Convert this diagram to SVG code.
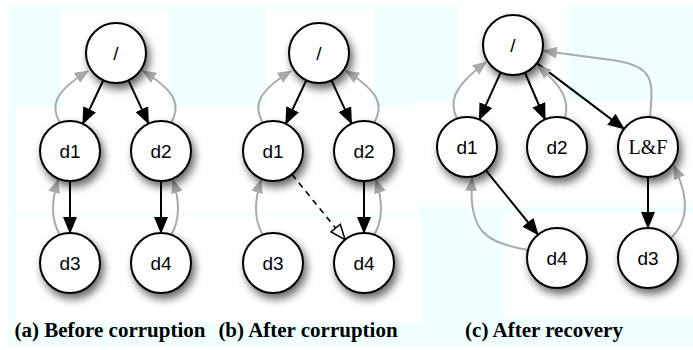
<svg xmlns="http://www.w3.org/2000/svg" width="693" height="350" viewBox="0 0 693 350">
  <defs>
    <filter id="shadow" x="-40%" y="-40%" width="190%" height="190%">
      <feDropShadow dx="3" dy="5" stdDeviation="4" flood-color="#000" flood-opacity="0.6"/>
    </filter>
    <marker id="head" markerUnits="userSpaceOnUse" markerWidth="17" markerHeight="14" refX="16" refY="7" orient="auto">
      <path d="M0,0 L17,7 L0,14 z" fill="#000"/>
    </marker>
    <marker id="headOpen" markerUnits="userSpaceOnUse" markerWidth="18" markerHeight="15" refX="16" refY="7.5" orient="auto">
      <path d="M1,1.5 L16,7.5 L1,13.5 z" fill="#fff" stroke="#000" stroke-width="1.5"/>
    </marker>
    <marker id="back" markerUnits="userSpaceOnUse" markerWidth="14" markerHeight="12" refX="13" refY="6" orient="auto">
      <path d="M0,0 L14,6 L0,12 z" fill="#aaa"/>
    </marker>
  </defs>
  <style>
    .node circle { fill: #fff; stroke: #000; stroke-width: 2; }
    .node text { font-family: "Liberation Sans", Arial, sans-serif; font-size: 19px; text-anchor: middle; fill: #000; }
    .node text.serif { font-family: "Liberation Serif", "Times New Roman", serif; font-size: 20px; }
    .edge { fill: none; stroke: #000; stroke-width: 2; marker-end: url(#head); }
    .dashed { fill: none; stroke: #000; stroke-width: 1.6; stroke-dasharray: 6 5; marker-end: url(#headOpen); }
    .parent { fill: none; stroke: #aaa; stroke-width: 2; marker-end: url(#back); }
    .caption { font-family: "Liberation Serif", "Times New Roman", serif; font-weight: bold; font-size: 21px; text-anchor: middle; fill: #000; }
  </style>

  <!-- page background: light cyan with white panels -->
  <g id="background">
    <rect x="0" y="0" width="693" height="350" fill="#fff"/>
    <rect x="8" y="5" width="685" height="342" fill="#f0ffff"/>
    <rect x="62" y="9" width="106" height="98" fill="#fff"/>
    <rect x="266" y="9" width="107" height="98" fill="#fff"/>
    <rect x="460" y="5" width="107" height="98" fill="#fff"/>
    <rect x="16" y="107" width="404" height="216" fill="#fff"/>
    <rect x="413" y="102" width="280" height="105" fill="#fff"/>
    <rect x="505" y="213" width="188" height="105" fill="#fff"/>
    <rect x="16" y="214" width="404" height="2" fill="#f0ffff"/>
  </g>

  <!-- connectors -->
  <g id="connectors">
    <!-- (a) -->
    <line class="edge" x1="103.3" y1="80.2" x2="82.8" y2="123.8"/>
    <line class="edge" x1="128.5" y1="80.3" x2="148.5" y2="123.7"/>
    <line class="edge" x1="70" y1="181" x2="70" y2="233"/>
    <line class="edge" x1="161" y1="181" x2="161" y2="233"/>
    <path class="parent" d="M60,123 C50,106 54,92 88,71"/>
    <path class="parent" d="M171,123 C181,106 177,92 143,71"/>
    <path class="parent" d="M60,235 C52,222 50,205 58,180"/>
    <path class="parent" d="M171,235 C179,222 181,205 173,180"/>
    <!-- (b) -->
    <line class="edge" x1="306.3" y1="80.2" x2="285.8" y2="123.8"/>
    <line class="edge" x1="331.5" y1="80.3" x2="351.5" y2="123.7"/>
    <line class="edge" x1="364" y1="181" x2="364" y2="233"/>
    <line class="dashed" x1="291.9" y1="174.3" x2="345.1" y2="239.7"/>
    <path class="parent" d="M263,123 C253,106 257,92 291,71"/>
    <path class="parent" d="M374,123 C384,106 380,92 346,71"/>
    <path class="parent" d="M263,235 C255,222 253,205 261,180"/>
    <path class="parent" d="M374,235 C382,222 384,205 376,180"/>
    <!-- (c) -->
    <line class="edge" x1="500.7" y1="72.4" x2="479.3" y2="119.6"/>
    <line class="edge" x1="524.9" y1="72.5" x2="545.1" y2="119.5"/>
    <line class="edge" x1="536.9" y1="63.1" x2="624.1" y2="128.9"/>
    <line class="edge" x1="485.9" y1="170.3" x2="538.1" y2="234.7"/>
    <line class="edge" x1="648" y1="177" x2="648" y2="228"/>
    <path class="parent" d="M457,119 C449,102 452,88 486,62"/>
    <path class="parent" d="M565,118 C570,100 562,86 538,66"/>
    <path class="parent" d="M650,117 C653,82 656,66 612,60 L544,51"/>
    <path class="parent" d="M528,250 C485,242 468,232 472,178"/>
    <path class="parent" d="M671,238 C688,222 690,200 674,166"/>
  </g>

  <!-- (a) Before corruption -->
  <g id="a-root" class="node"><circle cx="116" cy="53" r="30" filter="url(#shadow)"/><text x="116" y="60">/</text></g>
  <g id="a-d1" class="node"><circle cx="70" cy="151" r="30" filter="url(#shadow)"/><text x="70" y="158">d1</text></g>
  <g id="a-d2" class="node"><circle cx="161" cy="151" r="30" filter="url(#shadow)"/><text x="161" y="158">d2</text></g>
  <g id="a-d3" class="node"><circle cx="70" cy="263" r="30" filter="url(#shadow)"/><text x="70" y="270">d3</text></g>
  <g id="a-d4" class="node"><circle cx="161" cy="263" r="30" filter="url(#shadow)"/><text x="161" y="270">d4</text></g>

  <!-- (b) After corruption -->
  <g id="b-root" class="node"><circle cx="319" cy="53" r="30" filter="url(#shadow)"/><text x="319" y="60">/</text></g>
  <g id="b-d1" class="node"><circle cx="273" cy="151" r="30" filter="url(#shadow)"/><text x="273" y="158">d1</text></g>
  <g id="b-d2" class="node"><circle cx="364" cy="151" r="30" filter="url(#shadow)"/><text x="364" y="158">d2</text></g>
  <g id="b-d3" class="node"><circle cx="273" cy="263" r="30" filter="url(#shadow)"/><text x="273" y="270">d3</text></g>
  <g id="b-d4" class="node"><circle cx="364" cy="263" r="30" filter="url(#shadow)"/><text x="364" y="270">d4</text></g>

  <!-- (c) After recovery -->
  <g id="c-root" class="node"><circle cx="513" cy="45" r="30" filter="url(#shadow)"/><text x="513" y="52">/</text></g>
  <g id="c-d1" class="node"><circle cx="467" cy="147" r="30" filter="url(#shadow)"/><text x="467" y="154">d1</text></g>
  <g id="c-d2" class="node"><circle cx="557" cy="147" r="30" filter="url(#shadow)"/><text x="557" y="154">d2</text></g>
  <g id="c-lf" class="node"><circle cx="648" cy="147" r="30" filter="url(#shadow)"/><text class="serif" x="648" y="154">L&amp;F</text></g>
  <g id="c-d4" class="node"><circle cx="557" cy="258" r="30" filter="url(#shadow)"/><text x="557" y="265">d4</text></g>
  <g id="c-d3" class="node"><circle cx="648" cy="258" r="30" filter="url(#shadow)"/><text x="648" y="265">d3</text></g>

  <!-- captions -->
  <g id="captions">
    <text class="caption" x="110" y="337">(a) Before corruption</text>
    <text class="caption" x="308" y="337">(b) After corruption</text>
    <text class="caption" x="544" y="337">(c) After recovery</text>
  </g>
</svg>
